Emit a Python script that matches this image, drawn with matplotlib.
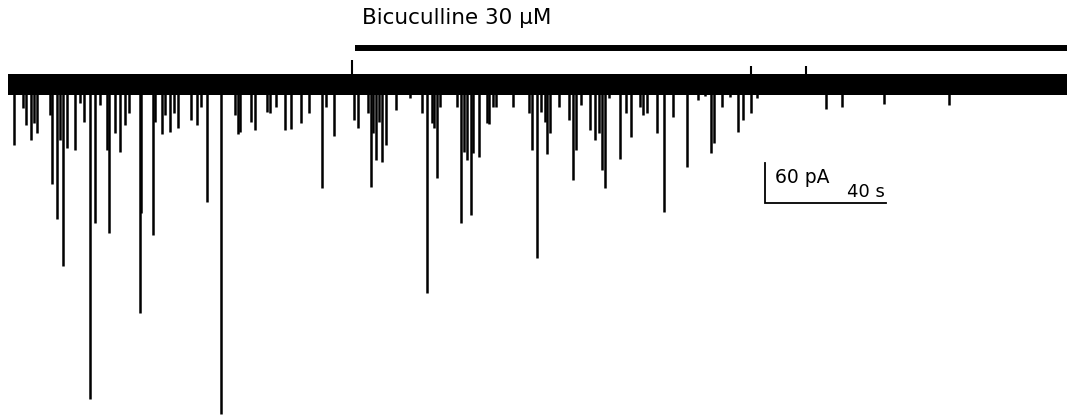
import matplotlib
matplotlib.use("Agg")
import matplotlib.pyplot as plt

# Whole-cell recording: spontaneous currents, bicuculline applied part-way
record_duration_s = 350.0
noise_band_pa = 16.5

# Downward (inward) events: time (s) and peak amplitude (pA)
event_times = [
    1.98, 4.86, 5.85, 7.60, 8.50, 9.59, 13.88, 14.55, 16.30, 17.19,
    18.28, 19.40, 22.15, 23.80, 25.12, 27.11, 28.86, 30.41, 32.63, 33.49,
    35.37, 37.02, 38.68, 40.00, 43.64, 44.13, 47.83, 48.60, 50.81, 51.90,
    53.55, 55.04, 56.10, 60.40, 62.38, 63.70, 65.88, 70.41, 75.04, 75.93,
    76.69, 80.33, 81.65, 85.52, 86.61, 88.60, 91.57, 93.45, 96.76, 99.60,
    103.70, 105.12, 107.87, 114.48, 115.80, 119.11, 119.90, 120.76, 121.65, 122.74,
    123.64, 124.96, 128.26, 132.89, 136.76, 138.61, 140.07, 140.83, 141.72, 142.81,
    148.33, 149.75, 150.74, 151.83, 153.06, 153.82, 155.60, 158.25, 159.01, 160.43,
    161.22, 167.04, 172.33, 173.32, 174.98, 176.10, 177.52, 178.28, 179.17, 182.25,
    185.55, 186.88, 187.67, 189.42, 192.40, 194.05, 195.47, 196.36, 197.36, 198.78,
    202.31, 204.30, 205.85, 208.93, 210.02, 211.34, 214.45, 216.86, 219.93, 224.36,
    228.20, 230.41, 232.40, 233.49, 235.93, 238.68, 241.42, 243.07, 245.62, 247.70,
    270.41, 275.80, 289.59, 311.07,
]
event_amplitudes = [
    -92.1, -35.8, -61.6, -84.5, -58.6, -73.8, -46.4, -151.4, -204.7, -84.5,
    -276.3, -96.7, -99.7, -28.2, -57.1, -478.7, -210.8, -31.2, -99.7, -226.0,
    -73.8, -102.7, -61.6, -43.4, -347.8, -195.6, -229.1, -57.1, -75.3, -46.4,
    -72.3, -43.4, -66.2, -54.0, -61.6, -34.2, -178.8, -501.5, -46.4, -75.3,
    -72.3, -57.1, -69.3, -41.9, -43.4, -34.2, -69.3, -67.7, -58.6, -43.4,
    -157.5, -34.2, -78.4, -54.0, -66.2, -43.4, -156.0, -73.8, -114.9, -57.1,
    -118.0, -92.1, -38.8, -20.5, -43.4, -317.4, -58.6, -66.2, -142.3, -34.2,
    -34.2, -210.8, -102.7, -114.9, -198.6, -104.3, -110.4, -58.6, -60.1, -34.2,
    -34.2, -34.2, -43.4, -99.7, -264.1, -41.9, -57.1, -105.8, -73.8, -34.2,
    -54.0, -145.4, -99.7, -31.2, -69.3, -84.5, -73.8, -130.1, -157.5, -20.5,
    -113.4, -43.4, -79.9, -34.2, -46.4, -43.4, -73.8, -194.1, -49.5, -125.6,
    -23.6, -17.5, -104.3, -89.0, -34.2, -19.0, -72.3, -54.0, -43.4, -20.5,
    -37.3, -34.2, -29.7, -31.2,
]

# Brief upward (outward) transients
up_times = [113.62, 245.62, 263.70]
up_amplitudes = [37.3, 28.2, 28.2]

# Drug application
drug_label = "Bicuculline 30 µM"
drug_start_s = 114.7
drug_end_s = 350.1

# Scale bar
scale_pa = 60
scale_s = 40
scale_pa_label = "60 pA"
scale_s_label = "40 s"

font = ["DejaVu Sans"]

fig = plt.figure(figsize=(10.69, 4.19), dpi=100)
ax = fig.add_axes([0, 0, 1, 1])
ax.set_xlim(-2.645, 350.74)
ax.set_ylim(-509.1, 128.6)
ax.axis("off")

# Baseline noise band
ax.fill_between([0, record_duration_s], -noise_band_pa, noise_band_pa,
                color="black", linewidth=0)

# Synaptic events
ax.vlines(event_times, 0, event_amplitudes, color="black", linewidth=1.8)
ax.vlines(up_times, 0, up_amplitudes, color="black", linewidth=1.5)

# Drug bar and label
ax.plot([drug_start_s, drug_end_s], [56.3, 56.3], color="black",
        linewidth=4.3, solid_capstyle="butt")
ax.text(drug_start_s + 2.2, 92.1, drug_label, family=font, fontsize=15.5,
        ha="left", va="baseline", color="black")

# Scale bar
sb_x, sb_y = 250.25, -179.6
ax.plot([sb_x, sb_x, sb_x + scale_s], [sb_y + scale_pa, sb_y, sb_y],
        color="black", linewidth=1.3, solid_joinstyle="miter")
ax.text(253.6, -149.5, scale_pa_label, family=font, fontsize=13.5,
        ha="left", va="baseline", color="black")
ax.text(277.2, -170.8, scale_s_label, family=font, fontsize=13.0,
        ha="left", va="baseline", color="black")

fig.savefig("out.png", dpi=100)
